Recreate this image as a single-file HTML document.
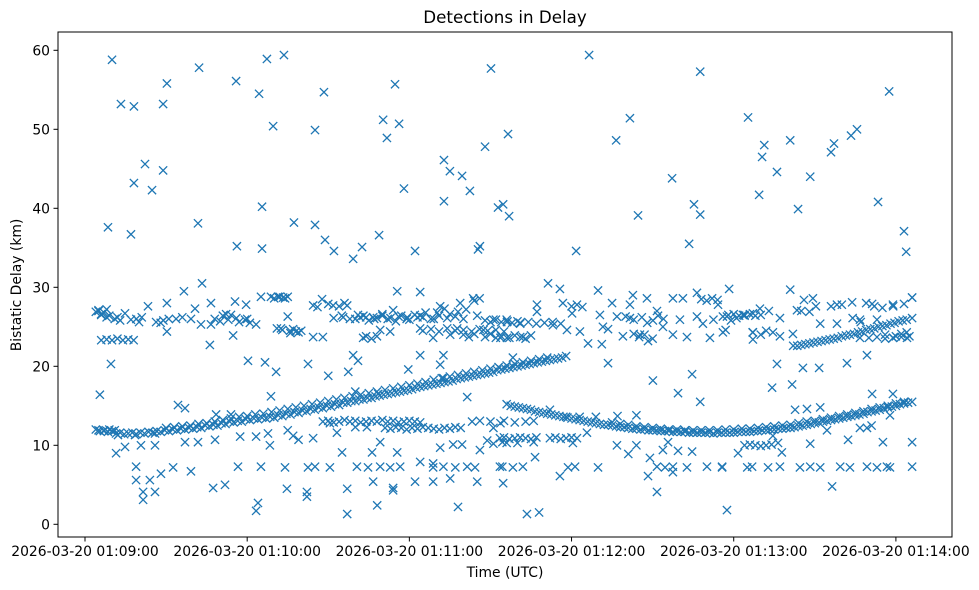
<!DOCTYPE html>
<html><head><meta charset="utf-8"><style>
html,body{margin:0;padding:0;background:#fff;}
svg{display:block;font-family:"DejaVu Sans","Liberation Sans",sans-serif;}
</style></head><body>
<svg id="chart" width="979" height="590" viewBox="0 0 979 590">
<rect x="0" y="0" width="979" height="590" fill="#fff"/>
<text x="505" y="23" text-anchor="middle" font-size="16.7" fill="#000">Detections in Delay</text>
<g id="marks"></g>
<g id="axes"></g>
<rect x="58" y="32" width="894" height="505" fill="none" stroke="#000" stroke-width="1"/>
<text x="505" y="577" text-anchor="middle" font-size="13.9" fill="#000">Time (UTC)</text>
<text x="0" y="0" transform="translate(21,285) rotate(-90)" text-anchor="middle" font-size="13.9" fill="#000">Bistatic Delay (km)</text>
</svg>
<script>
// seconds after 2026-03-20 01:09:00 ; delay in km
const xTickValues = [0, 60, 120, 180, 240, 300];
const xTickLabels = ["2026-03-20 01:09:00","2026-03-20 01:10:00","2026-03-20 01:11:00","2026-03-20 01:12:00","2026-03-20 01:13:00","2026-03-20 01:14:00"];
const yTickValues = [0, 10, 20, 30, 40, 50, 60];
const yTickLabels = ["0","10","20","30","40","50","60"];

const outlierT = [10,13.3,18.1,8.5,17,18.1,22.2,24.8,28.9,28.9,30.3,42.2,41.8,43.3,36.6,55.9,64.4,67.3,73.6,69.6,65.5,56.2,65.5,77.3,85.1,88.4,85.1,88.8,92.1,99.2,102.5,108.8,110.3,111.7,114.7,116.2,118,122.1,132.8,132.8,135,139.5,142.4,145.4,146.1,148,150.2,152.8,154.7,156.9,156.5,171.3,181.7,186.5,196.5,201.6,204.6,217.2,223.5,225.3,227.6,227.6,245.3,249.4,250.5,251.3,256,260.9,263.8,268.3,276,277.1,283.4,285.6,293.4,297.5,303,303.8];
const outlierKm = [58.8,53.2,52.9,37.6,36.7,43.2,45.6,42.3,53.2,44.8,55.8,57.8,38.1,30.5,29.5,56.1,54.5,58.9,59.4,50.4,40.2,35.2,34.9,38.2,49.9,54.7,37.9,36.0,34.6,33.6,35.1,36.6,51.2,48.9,55.7,50.7,42.5,34.6,46.1,40.9,44.7,44.1,42.2,34.8,35.2,47.8,57.7,40.1,40.5,39.0,49.4,30.5,34.6,59.4,48.6,51.4,39.1,43.8,35.5,40.5,57.3,39.2,51.5,41.7,46.5,48.0,44.6,48.6,39.9,44.0,47.1,48.2,49.2,50.0,40.8,54.8,37.1,34.5];

const upperT = [4,5,6,7,8,6,8,10,12,14,16,18,14.8,17,23.3,26.3,30.3,30.3,33.7,39.2,40.7,42.9,46.6,46.6,46.2,52.2,54.8,55.5,59.2,59.6,63.3,65.1,68.8,71.4,72.5,60.3,66.6,70.7,68.8,9.6,5.5,
73.3,75.9,73,78,80,75,84.4,87.7,84.4,88,91.8,97,95.5,101.8,102.9,106.6,109.2,112.9,114,115.5,119.2,124,124,124,128.8,130.3,131.4,135.1,137.7,138.8,143.6,145.1,147.4,151.1,153.7,156.3,99.2,101,97.4,90,82.5,119.6,124,131.4,132.6,132.6,100,108.5,141.4,
175.7,167.2,167.2,176.8,180.2,156.1,161,156.1,162,173.1,178.3,183.1,186.1,189.8,190.5,191.6,191.2,195,196.8,193.5,199,201.6,202.7,201.6,205.3,207.9,210.1,211.6,208.3,213.8,217.5,221.2,220.1,217.5,222.7,226.4,226.4,228.6,231.2,234.2,232.5,237.5,158.3,193.5,210.1,224.6,219.4,227.6,
238.3,260.9,243.4,247.1,249.7,253,257.1,263.4,269.3,270.4,278.2,283.8,291.2,298.9,306,236,237,247.1,247.1,254.5,261.9,257.1,272,278.2,286.7,293,286.7,298.9,304.1,304,256,265.6,271.6,281.9,289.3,254.2,261.6,291.2,298.9,262.7,267.1,272,
92,95,98,101,104,107,110,113,116,119,122,125,128,131,134,137,140,125,128,131,134,137,140,143,146,149,152,155,238,240,242,244,246,248,250,161,164,167,170,173,176,290,293,296,299,302];
const upperKm = [26.9,27.1,26.5,26.8,26.2,23.3,23.4,23.3,23.5,23.3,23.4,23.3,26.7,25.9,27.6,25.6,28,24.4,26,26,27.3,25.3,28,25.3,22.7,26.6,23.9,28.2,25.9,27.8,25.3,28.8,28.8,28.8,24.8,20.7,20.5,19.3,16.2,20.3,16.4,
28.7,24.5,24.6,24.4,24.5,26.3,27.7,28.5,23.7,23.7,27.7,27.7,26.2,26.2,23.6,26.2,24.6,24.4,27.1,29.5,26.2,29.4,26.4,24.8,23.6,26.8,27.6,24,24.8,28,28.6,26.4,24.6,25.9,23.6,25.7,21.4,20.7,19.3,18.8,20.3,19.6,21.4,20.2,21.4,18.5,16.8,16.5,16.1,
29.8,27.8,26.9,28,26.7,25.6,25.4,23.6,23.7,25.2,24.6,24.4,22.9,29.6,26.5,25,22.8,28,26.3,24.7,23.8,27.8,29,26.1,24,28.6,25.8,27,23.2,25,28.6,28.6,25.9,24,23.7,29.3,26.3,25.4,23.6,27.8,25.9,26.3,21.1,20.4,18.2,19,16.6,15.5,
29.8,29.7,26.5,26.7,27.3,27,26.1,27.1,28.6,27.6,27.8,28.1,27.9,27.8,28.7,24.3,24.6,24.3,23.4,24.3,24.1,23.8,25.4,25.4,25.9,25.9,23.6,23.6,23.6,24.3,20.3,19.8,19.8,20.4,21.4,17.3,17.7,16.5,16.5,14.5,14.6,14.8,
26.1,26.4,26.0,26.5,26.2,26.0,26.4,26.1,26.3,26.0,26.5,26.2,26.0,26.4,26.1,26.3,26.0,24.5,24.7,24.4,24.8,24.5,24.6,24.4,24.7,24.5,24.6,24.4,26.5,26.6,26.4,26.5,26.6,26.4,26.5,25.5,25.6,25.4,25.5,25.6,25.4,23.6,23.7,23.5,23.6,23.7];

const denseT = [5,6,8,9,11,12,13,19,20,21,28,29,31,36,48,50,51,53,54,56,57,60,61,70,72,74,75,71,76,77,79,
86,90,94,96,100,103,105,108,110,112,115,117,120,123,126,129,133,135,138,141,144,146,148,150,152,154,156,158,160,
104,106,108,140,142,144,148,150,152,154,157,159,161,163,165,
180,182,184,200,203,206,208,212,214,203,205,207,210,228,230,232,234,236,239,241,244,247,250,252,265,266,268,276,280,284,287,289,292,295,296,300,302,305,299,303,306];
const denseKm = [27.0,26.6,27.2,26.4,26.0,26.2,25.8,26.0,25.6,26.2,25.5,25.8,26.0,26.2,26.0,25.7,26.4,25.9,26.5,26.1,25.6,26.0,25.5,28.6,28.8,28.6,28.8,24.8,24.2,24.7,24.3,
27.5,27.9,27.6,28.0,26.0,26.4,25.8,26.1,26.6,26.0,25.7,26.4,25.9,26.2,26.8,26.0,27.3,26.6,26.9,27.2,28.3,28.6,25.8,25.6,25.9,25.6,25.9,25.5,25.7,
23.8,23.5,23.8,24.0,23.7,24.1,23.7,24.1,23.6,23.8,23.6,23.9,23.7,23.5,23.9,
27.6,27.8,27.5,26.3,25.9,26.2,25.5,26.4,26.0,24.1,23.7,24.0,23.5,28.5,28.3,28.6,28.4,26.3,25.8,26.1,26.4,24.3,24.0,24.5,27.0,28.4,26.9,27.6,27.8,26.1,25.6,28.0,27.6,27.4,24.0,23.8,24.1,23.8,27.6,27.9,28.7];

const lowerT = [5,7,9,11,12.2,18.5,25.9,14.8,11.5,20.7,25.9,34.4,37,37,41.8,48.5,54,48.1,57.4,63.3,67.7,68.4,18.9,18.9,24,28.1,32.6,39.2,21.5,25.9,21.5,47.4,51.8,56.6,65.1,64,63.3,
75,77,79,84.4,90.6,93.2,95.1,100,104.3,106.2,109.2,115.5,124,128.8,131.4,136.2,139.5,146.1,143.2,146.1,151.1,153.7,154.4,148.8,151.1,
74,82.5,85.1,90.6,100.6,104.7,109.2,112.9,116.6,128.8,132.6,137,141.4,144.3,154.4,74.7,82.1,82.1,97,106.6,114,114,122.1,128.8,135.1,145.1,97,108.1,138,
153.5,155,157,159,161,163,165,167,172,174,176,178,180,182,156,160,166,180.5,185.7,196.8,204,201,213.8,219.4,224.6,215.7,209,166.5,150,155,159,163,166,172,178,183,189,197,204,
153.5,158.3,162,178.7,181.3,189.8,211.6,214.6,217.5,222.7,230.1,235.7,154.7,175.7,208.3,217.5,211.6,163.5,168,237.5,
244,246,248,250,252,254,241.6,254.5,256.4,257.8,268.3,274.5,282.3,286.7,289.3,291,295.2,297.8,306,
235.7,245,246.8,252.7,257.1,264.5,268.3,272,279.4,283,289.3,293,296.7,297.8,306,276.4,
88,90,92,94,96,98,100,102,104,106,108,110,112,114,116,118,120,122,124,
111,113,115,117,119,121,123,125,127,129,131,133,135,137,139];
const lowerKm = [11.9,11.8,12.0,11.9,11.3,11.3,11.5,9.8,9.0,10,10,15.1,14.7,10.4,10.4,13.9,13.9,10.7,11.1,11.1,11.5,10,7.3,5.6,5.6,6.4,7.2,6.7,4.1,4.1,3.1,4.6,5.0,7.3,7.3,2.7,1.7,
11.9,11.2,10.7,10.9,12.8,11.6,9.1,12.3,12.3,9.1,10.4,9.1,7.9,7.7,9.7,10.1,10.1,9.4,13,13.1,12.2,12.8,10.4,10.6,10.2,
7.2,7.2,7.3,7.2,7.3,7.2,7.3,7.2,7.3,7.2,7.3,7.2,7.3,7.2,7.3,4.5,4.1,3.5,4.5,5.4,4.3,4.6,5.4,5.4,5.8,5.4,1.3,2.4,2.2,
10.9,11.0,10.8,10.9,11.0,10.9,10.8,11.0,10.9,11.0,10.8,10.9,11.0,10.9,10.3,10.3,10.4,10.3,11.6,10,10,8.9,9.4,9.3,9.2,10.4,8.4,8.5,13,13.1,12.9,13,13.1,14.5,13.6,13.6,13.6,13.7,13.8,
7.3,7.2,7.3,7.2,7.3,7.2,7.3,7.2,7.3,7.2,7.3,7.2,5.2,6.1,6.1,6.6,4.1,1.3,1.5,1.8,
10,10.1,10,9.9,10,10.1,9.0,11.2,10.3,9.1,10.2,11.9,10.7,12.2,12.2,12.5,10.4,13.8,10.4,
7.3,7.2,7.3,7.2,7.3,7.2,7.3,7.2,7.3,7.2,7.3,7.2,7.3,7.2,7.3,4.8,
13.0,13.1,12.9,13.0,13.2,13.0,13.1,12.9,13.0,13.1,13.0,13.2,13.0,13.1,12.9,13.0,13.1,13.0,12.9,
12.2,12.1,12.3,12.2,12.0,12.2,12.1,12.3,12.2,12.1,12.0,12.2,12.1,12.3,12.2];

const trackT = [4,5.5,7,8.5,10,11.5,13,14.5,16,17.5,19,20.5,22,23.5,25,26.5,28,29.5,31,32.5,34,35.5,37,38.5,40,41.5,43,44.5,46,47.5,49,50.5,52,53.5,55,56.5,58,59.5,61,62.5,64,65.5,67,68.5,70,71.5,73,74.5,76,77.5,79,80.5,82,83.5,85,86.5,88,89.5,91,92.5,94,95.5,97,98.5,100,101.5,103,104.5,106,107.5,109,110.5,112,113.5,115,116.5,118,119.5,121,122.5,124,125.5,127,128.5,130,131.5,133,134.5,136,137.5,139,140.5,142,143.5,145,146.5,148,149.5,151,152.5,154,155.5,157,158.5,160,161.5,163,164.5,166,167.5,169,170.5,172,173.5,175,176.5,178];
const trackKm = [12.0,11.8,11.9,11.7,11.8,11.5,11.6,11.4,11.5,11.6,11.4,11.6,11.5,11.7,11.6,11.8,11.7,11.9,11.8,12.0,11.9,12.1,12.0,12.2,12.1,12.3,12.2,12.5,12.4,12.6,12.5,12.8,12.7,13.0,12.9,13.1,13.0,13.3,13.2,13.4,13.3,13.5,13.4,13.6,13.5,13.8,13.7,14.0,13.9,14.2,14.1,14.4,14.3,14.6,14.5,14.8,14.7,15.0,14.9,15.2,15.1,15.4,15.4,15.6,15.6,15.8,15.8,16.0,16.0,16.2,16.3,16.4,16.5,16.6,16.7,16.8,16.9,17.0,17.1,17.3,17.4,17.5,17.6,17.7,17.8,17.9,18.0,18.1,18.2,18.4,18.5,18.6,18.7,18.8,18.9,19.0,19.1,19.2,19.3,19.5,19.6,19.7,19.8,19.9,20.0,20.1,20.2,20.3,20.4,20.5,20.6,20.7,20.8,20.9,21.0,21.1,21.3];

const trackBT = [30,33,36,39,42,45,48,51,54,57,60,63,66,69,72,75,78,81,84,87,90,93,96,99,102,105,108,111,114,117,120,123,126,129,132,135,138,141,144,147,150,153,156,159,162,165,168,171];
const trackBKm = [12.2,12.3,12.4,12.5,12.7,12.8,13.0,13.2,13.4,13.6,13.7,13.9,14.0,14.2,14.4,14.6,14.8,15.0,15.2,15.4,15.6,15.8,16.0,16.2,16.4,16.6,16.8,17.0,17.2,17.4,17.6,17.8,18.0,18.3,18.5,18.7,18.9,19.1,19.3,19.5,19.7,19.9,20.1,20.3,20.5,20.7,20.9,21.1];

const track2T = [156,157.5,159,160.5,162,163.5,165,166.5,168,169.5,171,172.5,174,175.5,177,178.5,180,181.5,183,184.5,186,187.5,189,190.5,192,193.5,195,196.5,198,199.5,201,202.5,204,205.5,207,208.5,210,211.5,213,214.5,216,217.5,219,220.5,222,223.5,225,226.5,228,229.5,231,232.5,234,235.5,237,238.5,240,241.5,243,244.5,246,247.5,249,250.5,252,253.5,255,256.5,258,259.5,261,262.5,264,265.5,267,268.5,270,271.5,273,274.5,276,277.5,279,280.5,282,283.5,285,286.5,288,289.5,291,292.5,294,295.5,297,298.5,300,301.5,303,304.5,306];
const track2Km = [15.2,15.0,14.9,14.8,14.7,14.6,14.5,14.3,14.2,14.1,14.0,13.9,13.8,13.7,13.6,13.5,13.4,13.3,13.2,13.1,13.0,12.9,12.8,12.7,12.6,12.6,12.5,12.4,12.3,12.3,12.2,12.1,12.1,12.0,12.0,11.9,11.9,11.9,11.8,11.8,11.8,11.7,11.7,11.7,11.7,11.6,11.6,11.6,11.6,11.6,11.6,11.5,11.6,11.6,11.6,11.6,11.6,11.7,11.7,11.7,11.7,11.8,11.8,11.9,11.9,12.0,12.0,12.1,12.1,12.2,12.2,12.3,12.4,12.5,12.6,12.7,12.8,12.9,13.0,13.1,13.2,13.3,13.4,13.5,13.6,13.7,13.8,13.9,14.0,14.2,14.3,14.4,14.5,14.7,14.8,14.9,15.0,15.2,15.3,15.4,15.5];

const track2BT = [195,198,201,204,207,210,213,216,219,222,225,228,231,234,237,240,243,246,249,252,255,258,261,264,267,270,273,276,279,282,285,288,291,294,297,300,303];
const track2BKm = [12.9,12.7,12.6,12.4,12.3,12.2,12.1,12.0,12.0,11.9,11.9,11.9,11.9,11.9,12.0,12.0,12.1,12.1,12.2,12.3,12.4,12.5,12.6,12.8,13.0,13.1,13.3,13.5,13.7,13.9,14.1,14.3,14.6,14.8,15.0,15.3,15.5];

const track3T = [262,263.5,265,266.5,268,269.5,271,272.5,274,275.5,277,278.5,280,281.5,283,284.5,286,287.5,289,290.5,292,293.5,295,296.5,298,299.5,301,302.5,304,306];
const track3Km = [22.6,22.6,22.7,22.8,22.9,23.0,23.1,23.2,23.3,23.4,23.5,23.6,23.8,23.9,24.0,24.1,24.3,24.4,24.6,24.7,24.8,25.0,25.1,25.2,25.4,25.5,25.7,25.8,25.9,26.1];

const X0 = 85, PX_PER_S = 2.703;
const Y0 = 524.3, PX_PER_KM = 7.9;
function xScale(t){ return X0 + t * PX_PER_S; }
function yScale(k){ return Y0 - k * PX_PER_KM; }

const NS = "http://www.w3.org/2000/svg";
const marks = document.getElementById("marks");
const axes = document.getElementById("axes");
const R = 4.1;

function drawSeries(ts, ks, name){
  for (let i = 0; i < ts.length && i < ks.length; i++){
    const cx = xScale(ts[i]), cy = yScale(ks[i]);
    const p = document.createElementNS(NS, "path");
    p.setAttribute("d", "M"+(cx-R)+","+(cy-R)+"L"+(cx+R)+","+(cy+R)+"M"+(cx-R)+","+(cy+R)+"L"+(cx+R)+","+(cy-R));
    p.setAttribute("stroke", "#1f77b4");
    p.setAttribute("stroke-width", "1.3");
    p.setAttribute("fill", "none");
    
    
    marks.appendChild(p);
  }
}
drawSeries(outlierT, outlierKm, "detection-point");
drawSeries(upperT, upperKm, "detection-point");
drawSeries(denseT, denseKm, "detection-point");
drawSeries(lowerT, lowerKm, "detection-point");
drawSeries(trackT, trackKm, "detection-point");
drawSeries(trackBT, trackBKm, "detection-point");
drawSeries(track2T, track2Km, "detection-point");
drawSeries(track2BT, track2BKm, "detection-point");
drawSeries(track3T, track3Km, "detection-point");

for (let i = 0; i < yTickValues.length; i++){
  const y = yScale(yTickValues[i]);
  const l = document.createElementNS(NS, "line");
  l.setAttribute("x1", 58); l.setAttribute("x2", 53.5);
  l.setAttribute("y1", y); l.setAttribute("y2", y);
  l.setAttribute("stroke", "#000"); l.setAttribute("stroke-width", "1");
  
  
  axes.appendChild(l);
  const tx = document.createElementNS(NS, "text");
  tx.setAttribute("x", 50); tx.setAttribute("y", y + 5);
  tx.setAttribute("text-anchor", "end"); tx.setAttribute("font-size", "13.9");
  tx.textContent = yTickLabels[i];
  
  
  axes.appendChild(tx);
}
for (let i = 0; i < xTickValues.length; i++){
  const x = xScale(xTickValues[i]);
  const l = document.createElementNS(NS, "line");
  l.setAttribute("x1", x); l.setAttribute("x2", x);
  l.setAttribute("y1", 537); l.setAttribute("y2", 541.5);
  l.setAttribute("stroke", "#000"); l.setAttribute("stroke-width", "1");
  
  
  axes.appendChild(l);
  const tx = document.createElementNS(NS, "text");
  tx.setAttribute("x", x); tx.setAttribute("y", 556);
  tx.setAttribute("text-anchor", "middle"); tx.setAttribute("font-size", "13.9");
  tx.textContent = xTickLabels[i];
  
  
  axes.appendChild(tx);
}
</script>
</body></html>
